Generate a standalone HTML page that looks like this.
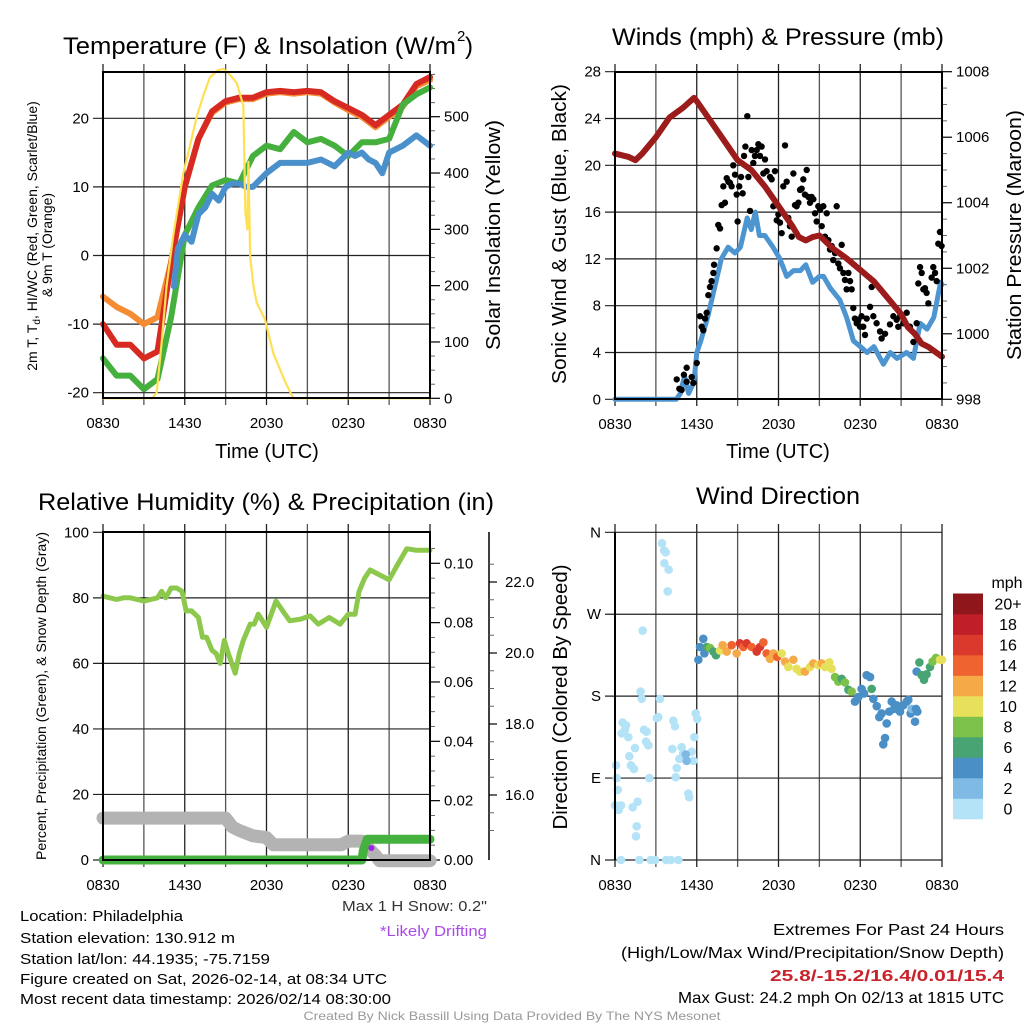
<!DOCTYPE html>
<html><head><meta charset="utf-8"><style>
html,body{margin:0;padding:0;background:#fff;}
svg{display:block;font-family:"Liberation Sans",sans-serif;}
</style></head><body>
<svg id="fig" width="1024" height="1024" viewBox="0 0 1024 1024" xmlns="http://www.w3.org/2000/svg"></svg>
<script>
// ---------- Panel 1: temperature & insolation ----------
const tempHours = [0,1,2,3,4,5,6,7,8,9,10,11,12,13,14,15,16,17,18,19,20,21,22,23,24];
const tempRed = [-10,-13,-13,-15,-14,-1,10,17,21,22.5,23,23,23.8,24,23.8,24,23.8,22.5,21.5,20.5,19,20.5,22,25,26];
const tempOrange = [-6,-7.5,-8.5,-10,-9,-1,10,17,20.8,22.3,22.8,22.8,23.6,23.8,23.6,23.8,23.6,22.3,21.2,20.2,18.7,20.2,21.7,24.7,25.6];
const tempGreen = [-15,-17.5,-17.5,-19.5,-18,-9,3,7,10.2,11,10.5,14.5,16,15.5,18,16.5,17,16,14.5,16.5,16.5,17,22,23.5,24.5];
const tempBlueHours = [5.2,5.5,6,6.5,7,7.5,8,8.5,9,9.5,10,10.5,11,11.5,12,13,14,15,16,17,18,18.5,19,19.5,20,20.5,21,22,23,24];
const tempBlue = [-4.5,1,3,2,6,7,9,8,10,10.5,10.5,10,10,11,12,13.5,13.5,13.5,14,13,15,14.5,15,14,13.5,12,15,16,17.5,16];
const solarHours = [0,3.6,3.94,4.31,4.67,5.16,5.5,5.9,6.4,6.88,7.4,7.85,8.4,8.83,9.3,9.81,10.3,10.45,10.6,10.67,10.8,11.04,11.28,11.89,12.5,13.36,13.97,24];
const solarVals = [0,0,10,100,200,290,340,400,450,500,540,570,582,585,575,560,520,330,300,420,250,200,170,140,80,30,0,0];
// ---------- Panel 2: winds & pressure ----------
const presHours = [0,1,1.5,2,3,4,5,5.8,6,7,8,9,10,11,12,13,13.5,14,14.5,15,16,17,18,19,20,21,21.5,22,22.5,23,24];
const presVals = [1005.5,1005.4,1005.3,1005.5,1006,1006.6,1006.9,1007.2,1007.1,1006.5,1005.9,1005.3,1005.0,1004.5,1003.9,1003.3,1002.95,1002.85,1002.95,1003.0,1002.6,1002.3,1001.95,1001.6,1001.1,1000.6,1000.2,1000.0,999.7,999.6,999.3];
const windHours = [0,4.5,4.8,5.1,5.4,5.8,6.0,6.3,6.8,7.3,7.8,8.3,8.8,9.2,9.7,10.0,10.3,10.6,11.0,11.6,12.1,12.6,13.1,13.6,14.0,14.5,15.0,15.3,15.8,16.5,17.0,17.5,18.0,18.5,19.0,19.7,20.2,20.7,21.4,21.9,22.4,22.9,23.4,23.9,24];
const windVals = [0,0,0.5,2,0.5,1.5,4,5,7,9.5,12,13,12.5,13,15.5,14.5,16,14,14,13,12,10.5,11,11,11.5,10,10.5,10.5,9.5,8.5,7,5,4.5,4,4.5,3,4,3.5,4,3.5,6.5,6,7,10,9.8];
const gustHours = [4.53,4.72,4.89,5.06,5.26,5.26,5.63,5.75,6.00,6.24,6.36,6.48,6.61,6.73,6.85,6.97,7.09,7.22,7.27,7.46,7.58,7.71,7.83,7.95,8.07,8.20,8.32,8.44,8.56,8.68,8.81,8.93,9.00,9.12,9.25,9.37,9.47,9.57,9.71,9.79,9.91,10.03,10.15,10.27,10.40,10.52,10.64,10.76,10.89,11.01,11.13,11.38,11.50,11.62,11.74,11.87,11.99,12.11,12.23,12.35,12.48,12.60,12.72,12.84,12.97,13.09,13.21,13.33,13.46,13.58,13.70,13.82,13.94,14.07,14.19,14.31,14.43,14.56,14.68,14.80,14.92,15.05,15.17,15.29,15.41,15.54,15.66,15.78,15.90,16.02,16.15,16.27,16.39,16.51,16.64,16.76,16.88,17.00,17.13,17.25,17.37,17.49,17.61,17.74,17.86,17.98,18.10,18.22,18.35,18.47,18.72,18.84,18.96,19.20,19.45,19.57,19.82,20.18,20.43,20.67,20.79,20.92,21.16,21.41,21.65,21.90,22.14,22.26,22.39,22.51,22.63,22.75,22.87,23.00,23.24,23.36,23.49,23.61,23.73,23.85,23.97];
const gustVals = [1.7,0.9,0.8,2.1,2.7,1.5,1.9,1.4,3.1,7.1,6.2,5.9,6.9,7.4,8.9,9.6,10.1,10.8,11.5,12.9,14.9,14.6,16.6,18.2,16.8,18.9,18.6,18.5,18.2,20.0,19.2,17.5,15.2,18.2,19.0,17.6,20.8,21.6,24.2,19.0,16.1,21.3,20.2,20.8,21.3,21.8,20.8,21.6,19.3,20.5,19.5,19.0,18.8,16.5,19.5,15.3,15.8,15.1,14.2,18.2,21.7,18.6,15.5,14.8,13.9,19.3,16.6,16.5,16.8,17.9,18.0,18.8,17.5,19.6,17.3,16.8,17.3,17.1,15.9,15.2,16.5,16.2,14.8,16.5,13.9,15.9,13.6,12.8,13.1,11.9,12.5,16.5,11.6,11.2,13.2,10.8,10.2,9.4,10.8,10.1,9.4,7.8,6.9,6.5,6.8,6.2,7.1,6.2,5.5,6.9,7.9,9.6,7.1,6.5,5.8,5.2,5.6,6.4,7.1,6.8,6.2,7.1,6.5,7.4,6.2,4.9,6.5,9.9,11.3,10.8,9.4,9.5,9.1,8.2,10.4,11.3,10.8,10.1,13.3,14.3,13.1];
// ---------- Panel 3: RH, precip, snow ----------
const rhHours = [0,0.5,1,1.5,2,2.5,3,3.5,4,4.3,4.6,5,5.4,5.8,6.1,6.5,7,7.3,7.6,8,8.3,8.6,8.9,9.2,9.7,10,10.3,10.8,11.1,11.4,12,12.7,13.2,13.7,14.5,15.2,15.8,16.6,17.4,18,18.5,18.8,19.2,19.6,20.3,21,21.6,22.3,23,24];
const rhVals = [80.5,80,79.5,80,80,79.5,79,79.5,80,82,80,83,83,82,76,76,74,68,68,64,63,60,67,63,57,63,67,72,72,75,71,79,76,73,73.5,74.5,72,74,72,75,75,82,86,88.5,87,85.5,90,95,94.5,94.5];
const precipHours = [0,19.0,19.1,19.4,24];
const precipVals = [0,0,0.003,0.007,0.007];
const snowHours = [0,9,9.5,10,11,12,12.5,17.5,18,19,19.5,20,20.3,24];
const snowVals = [15.35,15.35,15.1,15.0,14.85,14.8,14.6,14.6,14.7,14.7,14.5,14.3,14.15,14.15];
// ---------- Panel 4: wind direction ----------
const dirHours = [0.07,0.12,0.20,0,0.32,0.27,0.44,0.56,0.81,0.49,0.98,0.73,1.05,1.17,1.39,1.30,1.47,1.66,1.59,1.54,1.79,0.44,2.03,1.88,1.96,2.13,2.32,2.28,2.45,2.52,2.62,2.94,3.06,3.30,3.18,3.45,3.60,3.72,3.62,3.94,3.87,4.28,4.40,4.21,4.53,4.45,3.74,4.11,4.65,4.72,4.89,5.01,5.38,5.45,5.63,5.75,5.82,5.92,6.04,5.19,5.26,
6.12,6.24,6.48,6.56,6.73,6.97,7.22,7.41,7.71,7.90,8.20,8.56,8.93,9.17,9.42,9.66,10.03,10.40,10.64,10.89,11.13,11.38,11.62,11.91,12.23,12.48,12.72,13.09,13.33,13.58,13.94,14.31,14.56,14.92,15.17,15.41,15.73,15.90,16.15,16.39,16.64,16.88,17.13,17.37,17.61,17.86,18.10,18.28,18.47,18.72,18.84,18.96,19.21,19.40,19.57,19.82,19.69,19.94,20.13,20.31,20.48,20.67,20.92,21.16,21.41,21.53,21.70,21.77,22.02,22.09,22.19,22.14,22.34,22.51,22.68,22.87,23.12,23.31,23.56,23.85,24.0];
const dirVals = [104,90,77,60,59,55,60,151,148,139,135,143,114,104,100,58,123,64,37,26,0,0,252,185,177,143,141,130,126,90,0,0,156,177,157,348,340,338,326,319,295,153,147,122,101,91,0,0,0,111,124,117,73,69,119,109,135,161,155,116,109,
220,234,243,227,234,233,229,225,230,236,229,236,227,238,234,238,234,229,234,239,227,221,227,223,227,218,212,220,210,207,207,212,216,214,216,212,217,210,201,196,199,195,187,185,174,179,188,183,203,201,188,177,169,157,161,134,127,150,163,174,166,170,163,170,174,176,161,166,152,166,163,207,217,203,198,204,212,218,222,220,220];
const dirSpeeds = [0,0,0,0,0,0,0,0,0,0,0,0,0,0,0,0,0,0,0,0,0,0,0,0,0,0,0,0,0,0,0,0,0,0,0,0,0,0,0,0,0,0,0,0,0,0,0,0,0,0,0,0,0,0,0,0,0,0,0,3,3,
4,4,4,4,6,8,7,6,10,12,12,14,12,16,14,16,14,17,16,15,14,13,13,14,10,12,11,12,11,10,12,10,12,10,12,10,10,10,9,8,7,8,7,8,4,4,4,4,4,4,6,4,4,4,4,4,4,4,4,4,4,4,4,4,4,4,4,2,4,4,4,4,6,6,6,6,7,8,8,10,10];
const colorBins = ['#b4e3f7','#7fbae4','#4a8fc6','#48a573','#7cc24a','#e7e05b','#f6a947','#ee6330','#db392b','#c01f28','#8f171b'];
const binLabels = ['0','2','4','6','8','10','12','14','16','18','20+'];
const timeLabels = ['0830','1430','2030','0230','0830'];

const NS='http://www.w3.org/2000/svg';
const svg=document.getElementById('fig');
function mk(tag,attrs,parent){const e=document.createElementNS(NS,tag);for(const k in attrs)e.setAttribute(k,attrs[k]);(parent||svg).appendChild(e);return e;}
function txt(s,x,y,size,anchor,parent,extra){const e=mk('text',Object.assign({x:x,y:y,'font-size':size,'text-anchor':anchor||'start',fill:'#000'},extra||{}),parent);e.textContent=s;return e;}
function linScale(d0,d1,r0,r1){return v=>r0+(v-d0)/(d1-d0)*(r1-r0);}

function frame(g,P){
  for(let h=0;h<=24;h+=3){const x=P.xs(h);
    const l=mk('line',{x1:x,x2:x,y1:P.y0-8,y2:P.y1+7,stroke:(h%6===0?'#222':'#555'),'stroke-width':1.3},g);
    
    
  }
  for(let i=0;i<5;i++){const t=txt(timeLabels[i],P.xs(i*6),P.y1+30,15,'middle',g);
    
    }
}
function hgrid(g,P,vals,ys,labels){
  vals.forEach((v,i)=>{const y=ys(v);
    const l=mk('line',{x1:P.x0-10,x2:P.x1,y1:y,y2:y,stroke:'#222','stroke-width':1.2},g);
    
    
    const t=txt(labels[i],P.x0-14,y+5,15,'end',g);
    
    });
}
function path(g,xs,ys,X,Y,col,w,name){
  let d='';let started=false;
  for(let i=0;i<xs.length;i++){if(ys[i]==null){started=false;continue;}d+=(started?'L':'M')+X(xs[i]).toFixed(1)+' '+Y(ys[i]).toFixed(1)+' ';started=true;}
  const p=mk('path',{d:d,fill:'none',stroke:col,'stroke-width':w,'stroke-linejoin':'round','stroke-linecap':'round'},g);
  
  
  return p;
}
function rightTicks(g,x,vals,ys,labels,minors){
  vals.forEach((v,i)=>{const y=ys(v);mk('line',{x1:x,x2:x+10,y1:y,y2:y,stroke:'#000','stroke-width':1.2},g);
    const t=txt(labels[i],x+14,y+5,15,'start',g);
    
    });
  (minors||[]).forEach(v=>{const y=ys(v);mk('line',{x1:x,x2:x+5,y1:y,y2:y,stroke:'#666','stroke-width':1},g);});
}
function border(g,P){const r=mk('rect',{x:P.x0,y:P.y0,width:P.x1-P.x0,height:P.y1-P.y0,fill:'none',stroke:'#000','stroke-width':2},g);
  
  }
function title(s,x,y,len,name){const t=txt(s,x,y,24,'middle',null,{textLength:len,lengthAdjust:'spacingAndGlyphs'});
  
  return t;}
function vlabel(s,x,y,size,len,name){const t=txt(s,0,0,size,'middle',null,{transform:`translate(${x},${y}) rotate(-90)`,textLength:len,lengthAdjust:'spacingAndGlyphs'});
  
  return t;}

// ===== Panel 1 =====
{
 const P={x0:103,x1:430,y0:72,y1:398};P.xs=linScale(0,24,P.x0,P.x1);
 const g=mk('g',{});
 const yT=linScale(-20,20,392.7,118.3), yS=linScale(0,500,398.3,116.7);
 frame(g,P);
 hgrid(g,P,[-20,-10,0,10,20],yT,['-20','-10','0','10','20']);
 const mins=[];for(let v=25;v<=575;v+=25)if(v%100)mins.push(v);
 rightTicks(g,P.x1,[0,100,200,300,400,500],yS,['0','100','200','300','400','500'],mins);
 path(g,tempHours,tempOrange,P.xs,yT,'#f58b32',6,'series-9m-temp-orange');
 path(g,tempHours,tempRed,P.xs,yT,'#d62a22',6,'series-2m-temp-red');
 path(g,tempHours,tempGreen,P.xs,yT,'#46b03e',6,'series-dewpoint-green');
 path(g,tempBlueHours,tempBlue,P.xs,yT,'#4a90cb',6,'series-windchill-blue');
 path(g,solarHours,solarVals,P.xs,yS,'#ffe052',2.2,'series-insolation-yellow');
 border(g,P);
 const t=txt('Temperature (F) & Insolation (W/m',63,54,24,'start',null,{textLength:393,lengthAdjust:'spacingAndGlyphs'});
 
 const sup=txt('2',457,41,15,'start');
 const cp=txt(')',465,54,24,'start');
 const xl=txt('Time (UTC)',267,458,20,'middle',g);
 const yl=mk('text',{transform:'translate(37,236) rotate(-90)','font-size':14,'text-anchor':'middle',fill:'#000'});
 
 yl.innerHTML='2m T, T<tspan font-size="10" dy="3">d</tspan><tspan dy="-3">, HI/WC (Red, Green, Scarlet/Blue)</tspan>';
 vlabel('& 9m T (Orange)',52,245,14,104,'left-axis-title-line2');
 vlabel('Solar Insolation (Yellow)',500,235,20,230,'right-axis-title');
}
// ===== Panel 2 =====
{
 const P={x0:615,x1:942,y0:72,y1:399};P.xs=linScale(0,24,P.x0,P.x1);
 const g=mk('g',{});
 const yW=linScale(0,28,399.3,71.7), yP=linScale(998,1008,399.3,71.7);
 frame(g,P);
 hgrid(g,P,[0,4,8,12,16,20,24,28],yW,['0','4','8','12','16','20','24','28']);
 const mins=[];for(let v=998.5;v<1008;v+=0.5)if(v%2)mins.push(v);
 rightTicks(g,P.x1,[998,1000,1002,1004,1006,1008],yP,['998','1000','1002','1004','1006','1008'],mins);
 path(g,windHours,windVals,P.xs,yW,'#4d95d0',5,'series-sonic-wind-blue');
 gustHours.forEach((h,i)=>{const c=mk('circle',{cx:P.xs(h),cy:yW(gustVals[i]),r:3.2,fill:'#000'},g);
   
   });
 path(g,presHours,presVals,P.xs,yP,'#9c1b1b',6,'series-pressure-maroon');
 border(g,P);
 title('Winds (mph) & Pressure (mb)',778,45,332,'winds-title');
 const xl=txt('Time (UTC)',778,458,20,'middle',g);
 vlabel('Sonic Wind & Gust (Blue, Black)',566,234,20,300,'left-axis-title');
 vlabel('Station Pressure (Maroon)',1021,235,20,250,'right-axis-title');
}
// ===== Panel 3 =====
{
 const P={x0:103,x1:430,y0:532,y1:860};P.xs=linScale(0,24,P.x0,P.x1);
 const g=mk('g',{});
 const yR=linScale(0,100,860,532.3), yPr=linScale(0,0.1,860,563.3), ySn=linScale(16,22,795,582);
 frame(g,P);
 hgrid(g,P,[0,20,40,60,80,100],yR,['0','20','40','60','80','100']);
 const mins=[];for(let v=0.005;v<0.11;v+=0.005)if(Math.round(v*1000)%20)mins.push(v);
 rightTicks(g,P.x1,[0,0.02,0.04,0.06,0.08,0.10],yPr,['0.00','0.02','0.04','0.06','0.08','0.10'],mins);
 const ax=mk('line',{x1:489,x2:489,y1:532,y2:860,stroke:'#000','stroke-width':1.5},g);
 
 const mins2=[];for(let v=15;v<=22.5;v+=0.5)if(v%2)mins2.push(v);
 [16,18,20,22].forEach(v=>{mk('line',{x1:489,x2:497,y1:ySn(v),y2:ySn(v),stroke:'#000','stroke-width':1.2},g);
   const t=txt(v.toFixed(1),505,ySn(v)+5,15,'start',g);
   
   });
 mins2.forEach(v=>mk('line',{x1:489,x2:494,y1:ySn(v),y2:ySn(v),stroke:'#666','stroke-width':1},g));
 path(g,snowHours,snowVals,P.xs,ySn,'#b3b3b3',13,'series-snow-depth-gray');
 path(g,precipHours,precipVals,P.xs,yPr,'#45b13f',9,'series-precip-green');
 const pd=mk('circle',{cx:P.xs(19.7),cy:848,r:3,fill:'#a020f0'},g);
 path(g,rhHours,rhVals,P.xs,yR,'#8cc84b',5,'series-rh-green');
 border(g,P);
 title('Relative Humidity (%) & Precipitation (in)',266,510,456,'humidity-title');
 vlabel('Percent, Precipitation (Green), & Snow Depth (Gray)',46,696,14,328,'left-axis-title');
 const s=txt('Max 1 H Snow: 0.2"',487,911,15,'end',g,{fill:'#333',textLength:145,lengthAdjust:'spacingAndGlyphs'});
 
 const d=txt('*Likely Drifting',487,936,15,'end',g,{fill:'#a94be8',textLength:107,lengthAdjust:'spacingAndGlyphs'});
 
}
// ===== Panel 4 =====
{
 const P={x0:615,x1:942,y0:532,y1:860};P.xs=linScale(0,24,P.x0,P.x1);
 const g=mk('g',{});
 const yD=linScale(0,360,860,532.3);
 frame(g,P);
 hgrid(g,P,[0,90,180,270,360],yD,['N','E','S','W','N']);
 dirHours.forEach((h,i)=>{const b=Math.min(10,Math.floor((dirSpeeds[i]||0)/2));
   const c=mk('circle',{cx:P.xs(h),cy:yD(dirVals[i]),r:4.3,fill:colorBins[b]},g);
   
   });
 const bl=mk('line',{x1:P.x0,x2:P.x0,y1:P.y0,y2:P.y1,stroke:'#000','stroke-width':2},g);
 
 title('Wind Direction',778,504,164,'wind-direction-title');
 vlabel('Direction (Colored By Speed)',567,697,20,265,'left-axis-title');
 const cb=mk('g',{},g);
 colorBins.forEach((c,i)=>{const y=819-(i+1)*20.5;
   const r=mk('rect',{x:953,y:y,width:30,height:20.8,fill:c},cb);
   
   
   const t=txt(binLabels[i],1008,y+16,16,'middle',cb);
   
   });
 const u=txt('mph',1007,588,16,'middle',cb);
}
// ===== Footer text =====
{
 const g=mk('g',{});
 const L=[['Location: Philadelphia',921,163],['Station elevation: 130.912 m',943,215],['Station lat/lon: 44.1935; -75.7159',964,250],['Figure created on Sat, 2026-02-14, at 08:34 UTC',984,367],['Most recent data timestamp: 2026/02/14 08:30:00',1004,371]];
 L.forEach(a=>{const t=txt(a[0],20,a[1],15,'start',g,{textLength:a[2],lengthAdjust:'spacingAndGlyphs'});
   
   });
 const R=[['Extremes For Past 24 Hours',935,231,'#000','normal'],['(High/Low/Max Wind/Precipitation/Snow Depth)',958,383,'#000','normal'],['25.8/-15.2/16.4/0.01/15.4',981,234,'#c8232a','bold'],['Max Gust: 24.2 mph On 02/13 at 1815 UTC',1003,326,'#000','normal']];
 R.forEach(a=>{const t=txt(a[0],1004,a[1],16,'end',g,{textLength:a[2],lengthAdjust:'spacingAndGlyphs',fill:a[3],'font-weight':a[4]});
   
   });
 const f=txt('Created By Nick Bassill Using Data Provided By The NYS Mesonet',512,1020,12,'middle',g,{fill:'#999',textLength:417,lengthAdjust:'spacingAndGlyphs'});
 
}
</script>
</body></html>
